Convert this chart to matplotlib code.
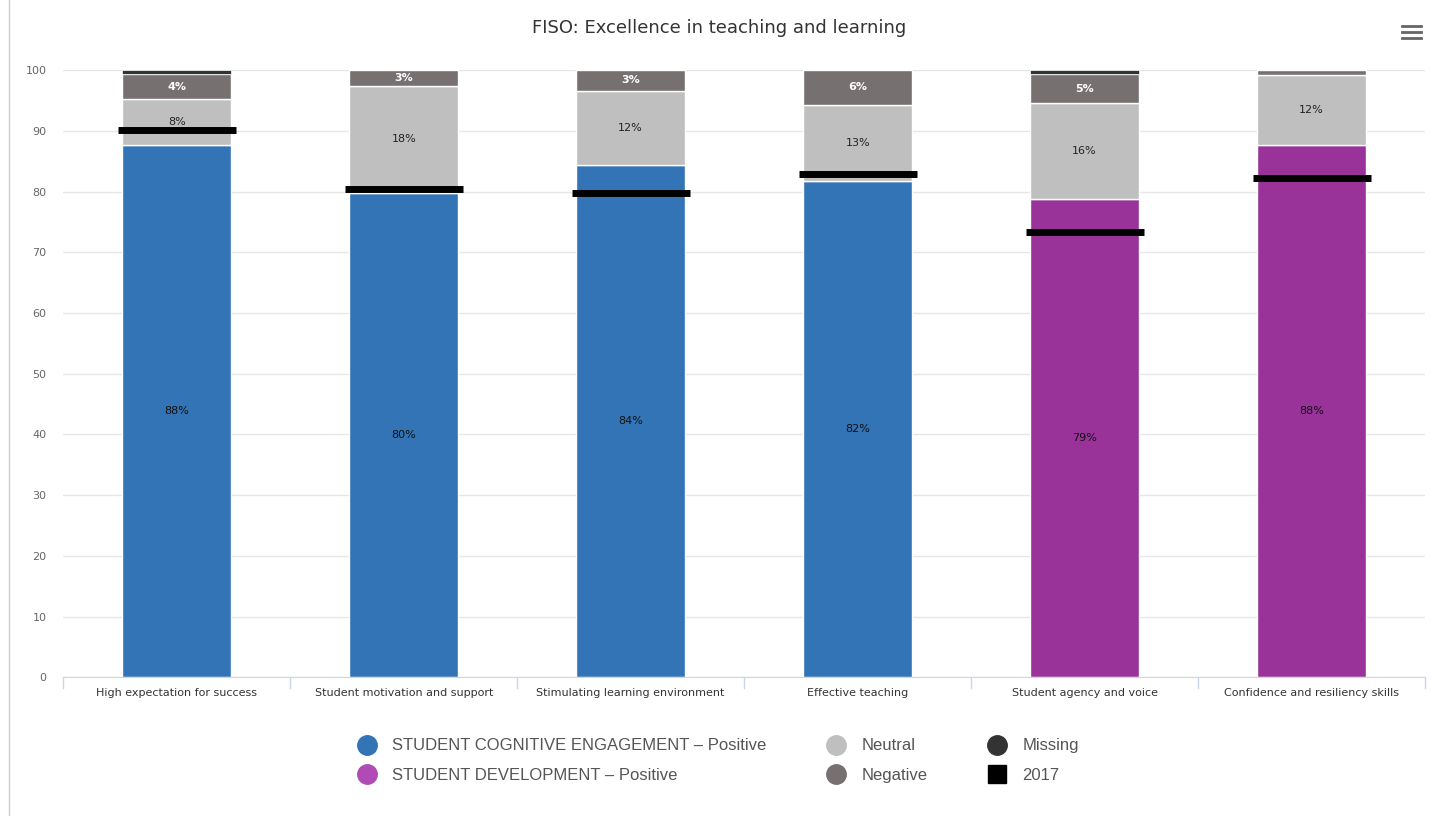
import numpy as np
import matplotlib.pyplot as plt
from matplotlib.lines import Line2D

categories = ['High expectation for success', 'Student motivation and support',
              'Stimulating learning environment', 'Effective teaching',
              'Student agency and voice', 'Confidence and resiliency skills']
group = ['cog', 'cog', 'cog', 'cog', 'dev', 'dev']
positive = [87.6, 79.8, 84.4, 81.7, 78.8, 87.6]
neutral = [7.6, 17.6, 12.2, 12.6, 15.8, 11.6]
negative = [4.1, 2.6, 3.4, 5.7, 4.7, 0.8]
missing = [0.7, 0.0, 0.0, 0.0, 0.7, 0.0]
prior_2017 = [90.2, 80.5, 79.8, 82.9, 73.3, 82.3]

colors = {'cog': '#3274b5', 'dev': '#993399'}
c_neutral = '#bfbfbf'
c_negative = '#767170'
c_missing = '#333333'

fig = plt.figure(figsize=(14.38, 8.16), dpi=100)
ax = fig.add_axes([0.044, 0.170, 0.947, 0.744])

x = np.arange(len(categories))
w = 0.48
pos = np.array(positive)
neu = np.array(neutral)
neg = np.array(negative)
mis = np.array(missing)

ax.bar(x, pos, w, color=[colors[g] for g in group], edgecolor='white', linewidth=1, zorder=2)
ax.bar(x, neu, w, bottom=pos, color=c_neutral, edgecolor='white', linewidth=1, zorder=2)
ax.bar(x, neg, w, bottom=pos + neu, color=c_negative, edgecolor='white', linewidth=1, zorder=2)
ax.bar(x, mis, w, bottom=pos + neu + neg, color=c_missing, edgecolor='white', linewidth=0.5, zorder=2)

# data labels
for i in x:
    ax.text(i, pos[i] / 2, f'{pos[i]:.0f}%', ha='center', va='center', fontsize=8, color='#111111', zorder=3)
    if neu[i] >= 2:
        ax.text(i, pos[i] + neu[i] / 2, f'{neu[i]:.0f}%', ha='center', va='center', fontsize=8,
                color='#222222', zorder=3)
    if neg[i] >= 2:
        ax.text(i, pos[i] + neu[i] + neg[i] / 2, f'{neg[i]:.0f}%', ha='center', va='center',
                fontsize=8, color='white', fontweight='bold', zorder=3)

# 2017 markers
ax.hlines(prior_2017, x - 0.26, x + 0.26, color='black', linewidth=5, zorder=4)

ax.set_xlim(-0.5, len(categories) - 0.5)
ax.set_ylim(0, 100)
ax.set_yticks(np.arange(0, 101, 10))
ax.yaxis.grid(True, color='#e6e6e6', linewidth=1, zorder=0)
ax.set_axisbelow(True)
for s in ['top', 'right', 'left']:
    ax.spines[s].set_visible(False)
ax.spines['bottom'].set_color('#ccd6eb')
ax.tick_params(axis='y', length=0, labelsize=8, labelcolor='#666666', pad=12)
ax.set_xticks(x)
ax.set_xticklabels(categories, fontsize=8, color='#333333')
ax.tick_params(axis='x', length=0, pad=8)
for b in np.arange(-0.5, len(categories), 1):
    ax.plot([b, b], [0, -1.8], color='#ccd6eb', linewidth=1, clip_on=False)

fig.text(0.5, 0.966, 'FISO: Excellence in teaching and learning', ha='center', va='center',
         fontsize=13, color='#333333')

# menu icon
for yy in [0.954, 0.961, 0.968]:
    fig.add_artist(Line2D([0.975, 0.988], [yy, yy], color='#666666', linewidth=2))
# frame line at left
fig.add_artist(Line2D([0.006, 0.006], [0.0, 1.0], color='#cccccc', linewidth=1))

handles = [
    Line2D([], [], marker='o', linestyle='none', markersize=14, color='#3274b5'),
    Line2D([], [], marker='o', linestyle='none', markersize=14, color='#b04bb6'),
    Line2D([], [], marker='o', linestyle='none', markersize=14, color=c_neutral),
    Line2D([], [], marker='o', linestyle='none', markersize=14, color=c_negative),
    Line2D([], [], marker='o', linestyle='none', markersize=14, color=c_missing),
    Line2D([], [], marker='s', linestyle='none', markersize=13, color='black'),
]
labels = ['STUDENT COGNITIVE ENGAGEMENT – Positive', 'STUDENT DEVELOPMENT – Positive',
          'Neutral', 'Negative', 'Missing', '2017']
leg = fig.legend(handles, labels, ncol=3, loc='center', bbox_to_anchor=(0.497, 0.068),
                 frameon=False, prop={'family': 'Liberation Sans', 'size': 12},
                 columnspacing=3.2, handletextpad=0.5, labelspacing=0.85)
for t in leg.get_texts():
    t.set_color('#555555')

fig.savefig('out.png', dpi=100)
